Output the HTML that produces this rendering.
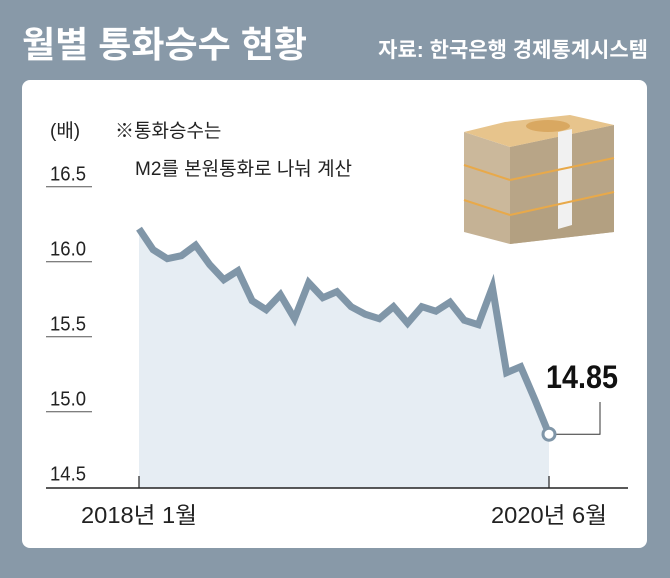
<!DOCTYPE html>
<html><head><meta charset="utf-8"><style>
body{margin:0;width:670px;height:573px;overflow:hidden;background:#8899a8;font-family:"Liberation Sans","Noto Sans CJK KR",sans-serif}
</style></head><body>
<svg width="670" height="573" viewBox="0 0 670 573" xmlns="http://www.w3.org/2000/svg">
<rect x="0" y="0" width="670" height="573" fill="#8899a8"/>
<text x="22" y="57" font-size="36" font-weight="bold" fill="#fff" font-family="Liberation Sans,Noto Sans CJK KR,sans-serif">월별 통화승수 현황</text>
<text x="648" y="57" font-size="21" font-weight="bold" fill="#fff" text-anchor="end" font-family="Liberation Sans,Noto Sans CJK KR,sans-serif">자료: 한국은행 경제통계시스템</text>
<rect x="22" y="80" width="625" height="468" rx="8" fill="#fff"/>
<text x="50" y="137" font-size="19" fill="#222" font-family="Liberation Sans,Noto Sans CJK KR,sans-serif">(배)</text>
<text x="115" y="137" font-size="19" fill="#222" font-family="Liberation Sans,Noto Sans CJK KR,sans-serif">※통화승수는</text>
<text x="135" y="175" font-size="19" fill="#222" font-family="Liberation Sans,Noto Sans CJK KR,sans-serif">M2를 본원통화로 나눠 계산</text>
<g>
<polygon points="464,200 510,215 614,192 614,232 510,244 464,232" fill="#c5b295"/>
<polygon points="510,215 614,192 614,232 510,244" fill="#b3a081"/>
<polygon points="464,165 510,180 614,158 614,192 510,215 464,200" fill="#cbb89b"/>
<polygon points="510,180 614,158 614,192 510,215" fill="#b8a587"/>
<polygon points="464,132 510,147 614,125 614,158 510,180 464,165" fill="#cbb89b"/>
<polygon points="510,147 614,125 614,158 510,180" fill="#b8a587"/>
<polygon points="464,132 510,147 614,125 570,115 505,122" fill="#e7c48c"/>
<ellipse cx="548" cy="126" rx="22" ry="6" fill="#d9a861"/>
<polygon points="558,132 572,129 572,225 558,229" fill="#f1f1f1"/>
<line x1="464" y1="165" x2="510" y2="180" stroke="#e8a94a" stroke-width="2"/>
<line x1="510" y1="180" x2="614" y2="158" stroke="#e8a94a" stroke-width="2"/>
<line x1="464" y1="200" x2="510" y2="215" stroke="#e8a94a" stroke-width="2"/>
<line x1="510" y1="215" x2="614" y2="192" stroke="#e8a94a" stroke-width="2"/>
</g>
<g id="plot"></g>
</svg>
<script>
const months=["2018년 1월","2","3","4","5","6","7","8","9","10","11","12","2019년 1월","2","3","4","5","6","7","8","9","10","11","12","2020년 1월","2","3","4","5","2020년 6월"];
const values=[16.22,16.08,16.02,16.04,16.11,15.98,15.88,15.94,15.74,15.68,15.78,15.62,15.86,15.76,15.80,15.70,15.65,15.62,15.70,15.59,15.70,15.67,15.73,15.61,15.58,15.83,15.26,15.30,15.08,14.85];
const yTicks=["16.5","16.0","15.5","15.0","14.5"];
const xLabels=["2018년 1월","2020년 6월"];
const NS="http://www.w3.org/2000/svg";
const g=document.getElementById('plot');
const x=i=>139+i*(549-139)/(months.length-1);
const y=v=>261.7-(v-16.0)*150;
function mk(t,a){const e=document.createElementNS(NS,t);for(const k in a)e.setAttribute(k,a[k]);g.appendChild(e);return e;}
let pts=values.map((v,i)=>x(i).toFixed(1)+","+y(v).toFixed(1));
let area=mk('polygon',{points:pts.join(' ')+` ${x(values.length-1)},488 ${x(0)},488`,fill:'#e6edf3'});


yTicks.forEach(t=>{const v=parseFloat(t);
 const tx=mk('text',{x:50,y:y(v)-6,'font-size':20,fill:'#222','font-family':'Liberation Sans,sans-serif','textLength':36,'lengthAdjust':'spacingAndGlyphs'});tx.textContent=t;
 
 
 if(v>14.6){const l=mk('line',{x1:46,x2:92,y1:y(v),y2:y(v),stroke:'#555','stroke-width':1});
 
 }
});
const ax=mk('line',{x1:46,x2:628,y1:488,y2:488,stroke:'#222','stroke-width':1.5});


[0,months.length-1].forEach((i,k)=>{
 const tk=mk('line',{x1:x(i),x2:x(i),y1:476,y2:488,stroke:'#222','stroke-width':1.2});
 
 
 const tl=mk('text',{x:x(i),y:523,'font-size':23,fill:'#222','text-anchor':'middle','font-family':'Liberation Sans,Noto Sans CJK KR,sans-serif','textLength':116,'lengthAdjust':'spacingAndGlyphs'});tl.textContent=xLabels[k];
 
 
});
const ln=mk('polyline',{points:pts.join(' '),fill:'none',stroke:'#8096a8','stroke-width':7,'stroke-linejoin':'miter'});


const li=values.length-1;
const ld=mk('polyline',{points:`${x(li)+6},${y(values[li])} 600,${y(values[li])} 600,402`,fill:'none',stroke:'#333','stroke-width':1});


const dot=mk('circle',{cx:x(li),cy:y(values[li]),r:6,fill:'#fff',stroke:'#8096a8','stroke-width':3});


const cl=mk('text',{x:582,y:388,'font-size':32,'font-weight':'bold',fill:'#111','text-anchor':'middle','font-family':'Liberation Sans,sans-serif','textLength':72,'lengthAdjust':'spacingAndGlyphs'});cl.textContent=values[li].toFixed(2);


</script>
</body></html>
